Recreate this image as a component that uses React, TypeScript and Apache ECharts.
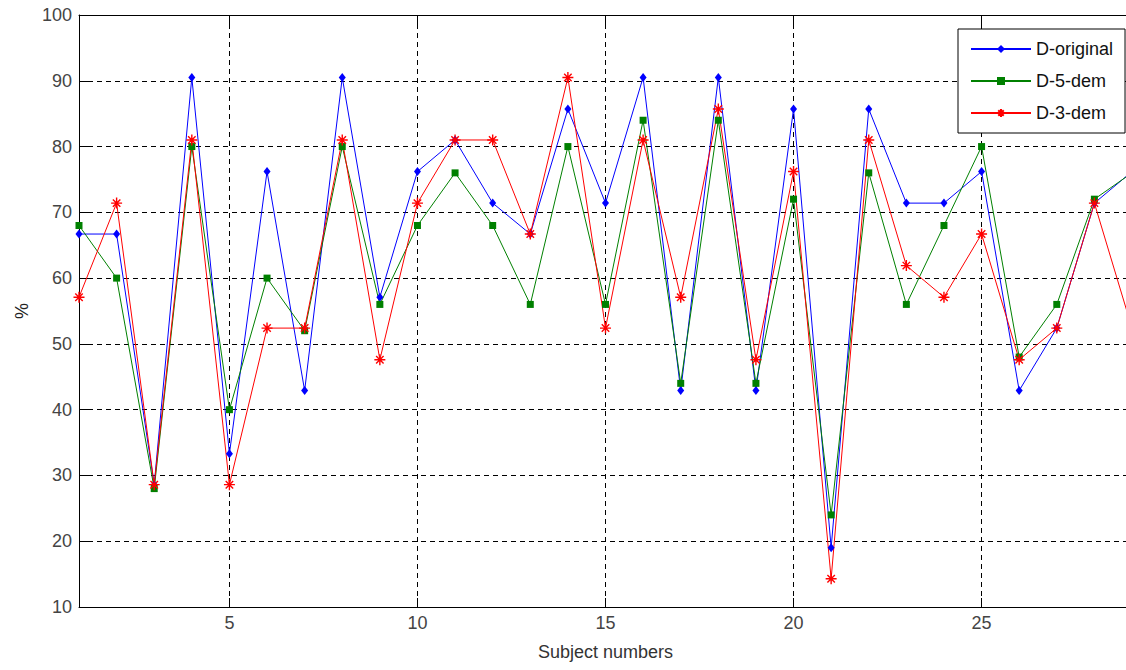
import React, { useEffect, useRef } from "react";
import * as echarts from "echarts";

const subjects = ["1", "2", "3", "4", "5", "6", "7", "8", "9", "10", "11", "12", "13", "14", "15", "16", "17", "18", "19", "20", "21", "22", "23", "24", "25", "26", "27", "28", "29"];
const xTickLabels = ["5", "10", "15", "20", "25"];
const dOriginal = [66.7, 66.7, 28.6, 90.5, 33.3, 76.2, 42.9, 90.5, 57.1, 76.2, 81.0, 71.4, 66.7, 85.7, 71.4, 90.5, 42.9, 90.5, 42.9, 85.7, 19.0, 85.7, 71.4, 71.4, 76.2, 42.9, 52.4, 71.4, 76.2];
const d5dem = [68, 60, 28, 80, 40, 60, 52, 80, 56, 68, 76, 68, 56, 80, 56, 84, 44, 84, 44, 72, 24, 76, 56, 68, 80, 48, 56, 72, 76];
const d3dem = [57.1, 71.4, 28.6, 81.0, 28.6, 52.4, 52.4, 81.0, 47.6, 71.4, 81.0, 81.0, 66.7, 90.5, 52.4, 81.0, 57.1, 85.7, 47.6, 76.2, 14.3, 81.0, 61.9, 57.1, 66.7, 47.6, 52.4, 71.4, 52.4];
const seriesNames = ["D-original", "D-5-dem", "D-3-dem"];
const yMin = 10;
const yMax = 100;
const yStep = 10;

const FONT = "'Liberation Sans', Arial, sans-serif";
const STAR = "path://M0,5L10,5M5,0L5,10M1.6,1.6L8.4,8.4M8.4,1.6L1.6,8.4";

export default function App() {
  const ref = useRef<HTMLDivElement>(null);
  useEffect(() => {
    if (!ref.current) return;
    const chart = echarts.init(ref.current, undefined, { renderer: "svg" });
    const showTick = (_i: number, v: string) => xTickLabels.includes(v);
    const dash = { color: "#000", type: [5, 4] as any, width: 1 };
    chart.setOption({
      animation: false,
      backgroundColor: "#fff",
      grid: { left: 79, right: -6, top: 15, bottom: 63, containLabel: false, outerBoundsMode: "none" },
      legend: {
        data: seriesNames,
        orient: "vertical",
        left: 958,
        top: 29,
        padding: [10, 12],
        itemGap: 12,
        itemWidth: 60,
        itemHeight: 10,
        backgroundColor: "#fff",
        borderColor: "#000",
        borderWidth: 1,
        textStyle: { fontSize: 18, color: "#111", fontFamily: FONT, lineHeight: 20 },
      },
      xAxis: [
        {
          type: "category",
          data: subjects,
          boundaryGap: false,
          name: "Subject numbers",
          nameLocation: "middle",
          nameGap: 36,
          nameTextStyle: { fontSize: 18, color: "#333", fontFamily: FONT },
          axisLine: { lineStyle: { color: "#000", width: 1 } },
          axisTick: { inside: true, length: 9, interval: showTick, lineStyle: { color: "#000" } },
          axisLabel: { interval: showTick, margin: 7, fontSize: 18, color: "#444", fontFamily: FONT },
          splitLine: { show: true, interval: showTick, lineStyle: dash },
        },
        {
          type: "category",
          data: subjects,
          boundaryGap: false,
          position: "top",
          axisLine: { lineStyle: { color: "#000", width: 1 } },
          axisTick: { inside: true, length: 9, interval: showTick, lineStyle: { color: "#000" } },
          axisLabel: { show: false },
          splitLine: { show: false },
        },
      ],
      yAxis: [
        {
          type: "value",
          min: yMin,
          max: yMax,
          interval: yStep,
          name: "%",
          nameLocation: "middle",
          nameGap: 48,
          nameRotate: 90,
          nameTextStyle: { fontSize: 18, color: "#222", fontFamily: FONT },
          axisLine: { show: true, lineStyle: { color: "#000", width: 1 } },
          axisTick: { show: true, inside: true, length: 9, lineStyle: { color: "#000" } },
          axisLabel: { margin: 7, fontSize: 18, color: "#444", fontFamily: FONT },
          splitLine: { show: true, lineStyle: dash },
        },
      ],
      series: [
        {
          name: seriesNames[0],
          type: "line",
          data: dOriginal,
          symbol: "diamond",
          symbolSize: [7, 9],
          color: "#0000ff",
          lineStyle: { width: 1, color: "#0000ff" },
          itemStyle: { color: "#0000ff" },
        },
        {
          name: seriesNames[1],
          type: "line",
          data: d5dem,
          symbol: "rect",
          symbolSize: 7,
          color: "#008000",
          lineStyle: { width: 1, color: "#008000" },
          itemStyle: { color: "#008000" },
        },
        {
          name: seriesNames[2],
          type: "line",
          data: d3dem,
          symbol: STAR,
          symbolSize: 11,
          color: "#ff0000",
          lineStyle: { width: 1, color: "#ff0000" },
          itemStyle: { color: "#ff0000", borderColor: "#ff0000", borderWidth: 1.4 },
        },
      ],
    });
    return () => chart.dispose();
  }, []);
  return <div ref={ref} style={{ position: "fixed", left: 0, top: 0, width: 1126, height: 670 }} />;
}
